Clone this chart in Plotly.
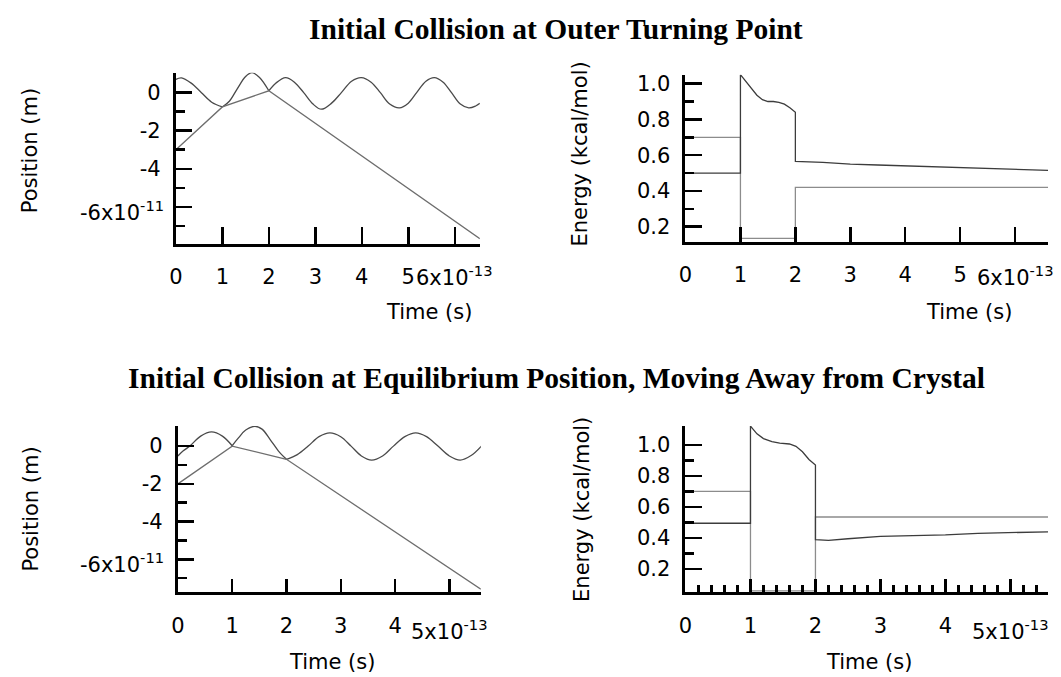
import plotly.graph_objects as go

# ---------------- data (time in units of 1e-13 s, position in 1e-11 m, energy in kcal/mol)
# Top-left: Initial collision at outer turning point - positions
tl_osc1_t = [0.0, 0.12, 0.33, 0.55, 0.77, 1.0]
tl_osc1_y = [0.70, 0.78, 0.50, 0.0, -0.50, -0.75]
tl_osc2_t = [1.0, 1.15, 1.32, 1.5, 1.64, 1.8, 2.0]
tl_osc2_y = [-0.75, -0.45, 0.20, 0.85, 1.05, 0.80, 0.10]
tl_osc3_t = [2.0, 2.15, 2.36, 2.55, 2.75, 2.95, 3.13, 3.35, 3.56, 3.78, 3.99, 4.2, 4.4,
             4.6, 4.81, 5.0, 5.18, 5.38, 5.56, 5.75, 5.93, 6.12, 6.3, 6.45, 6.54]
tl_osc3_y = [0.10, 0.50, 0.79, 0.55, 0.0, -0.60, -0.87, -0.55, 0.0, 0.60, 0.79, 0.55, 0.0,
             -0.60, -0.80, -0.55, 0.0, 0.60, 0.79, 0.55, 0.0, -0.60, -0.80, -0.70, -0.56]
tl_part_t = [0.0, 1.0, 2.0, 6.54]
tl_part_y = [-3.0, -0.75, 0.10, -7.68]

# Top-right: energies
tr_e1_t = [0.0, 1.0, 1.0, 1.1, 1.2, 1.3, 1.4, 1.5, 1.6, 1.7, 1.8, 1.9, 2.0, 2.0,
           2.5, 3.0, 3.5, 4.0, 4.5, 5.0, 5.5, 6.0, 6.6]
tr_e1_v = [0.50, 0.50, 1.05, 1.01, 0.97, 0.935, 0.91, 0.90, 0.90, 0.895, 0.885, 0.865, 0.84, 0.565,
           0.56, 0.55, 0.545, 0.54, 0.535, 0.53, 0.525, 0.52, 0.515]
tr_e2_t = [0.0, 1.0, 1.0, 2.0, 2.0, 6.6]
tr_e2_v = [0.70, 0.70, 0.135, 0.135, 0.42, 0.42]

# Bottom-left: Initial collision at equilibrium position - positions
bl_osc1_t = [0.0, 0.1, 0.22, 0.42, 0.62, 0.82, 1.0]
bl_osc1_y = [-0.52, -0.25, 0.0, 0.53, 0.75, 0.53, 0.02]
bl_osc2_t = [1.0, 1.12, 1.25, 1.42, 1.55, 1.7, 1.85, 2.0]
bl_osc2_y = [0.02, 0.45, 0.85, 1.05, 0.90, 0.35, -0.25, -0.70]
bl_osc3_t = [2.0, 2.2, 2.4, 2.6, 2.8, 3.0, 3.19, 3.38, 3.57, 3.77, 3.97, 4.18, 4.38,
             4.58, 4.79, 5.0, 5.2, 5.4, 5.59]
bl_osc3_y = [-0.70, -0.45, 0.0, 0.50, 0.70, 0.50, 0.0, -0.52, -0.74, -0.52, 0.0, 0.50, 0.70,
             0.50, 0.0, -0.52, -0.74, -0.50, 0.0]
bl_part_t = [0.0, 1.0, 2.0, 5.58]
bl_part_y = [-2.0, 0.0, -0.70, -7.58]

# Bottom-right: energies
br_e1_t = [0.0, 1.0, 1.0, 1.1, 1.2, 1.33, 1.45, 1.6, 1.7, 1.8, 1.9, 2.0, 2.0,
           2.2, 2.5, 3.0, 3.5, 4.0, 4.5, 5.0, 5.58]
br_e1_v = [0.495, 0.495, 1.12, 1.07, 1.04, 1.02, 1.01, 1.005, 0.99, 0.955, 0.905, 0.87, 0.39,
           0.385, 0.395, 0.41, 0.415, 0.42, 0.43, 0.435, 0.44]
br_e2_t = [0.0, 1.0, 1.0, 2.0, 2.0, 5.58]
br_e2_v = [0.70, 0.70, 0.06, 0.06, 0.535, 0.535]

# tick labels (the last, exponent-bearing label of each axis is drawn a little lower, as in the original)
t_xticks = [0, 1, 2, 3, 4, 5, 6]
t_xtext = ["0", "1", "2", "3", "4", "5", ""]
t_xlast = (6, "6x10<sup>-13</sup>")
b_xticks = [0, 1, 2, 3, 4, 5]
b_xtext = ["0", "1", "2", "3", "4", ""]
b_xlast = (5, "5x10<sup>-13</sup>")
pos_yticks = [0, -2, -4, -6]
pos_ytext = ["0", "-2", "-4", ""]
pos_ylast = (-6, "-6x10<sup>-11</sup>")
pos_yminor = [-1, -3, -5, -7]
en_yticks = [0.2, 0.4, 0.6, 0.8, 1.0]
en_ytext = ["0.2", "0.4", "0.6", "0.8", "1.0"]
en_yminor = [0.3, 0.5, 0.7, 0.9]
br_xminor = [0.2, 0.4, 0.6, 0.8, 1.2, 1.4, 1.6, 1.8, 2.2, 2.4, 2.6, 2.8, 3.2, 3.4, 3.6, 3.8,
             4.2, 4.4, 4.6, 4.8, 5.2, 5.4]

titles = ["Initial Collision at Outer Turning Point",
          "Initial Collision at Equilibrium Position, Moving Away from Crystal"]

# ---------------- figure
W, H = 1061, 677
fig = go.Figure()

OSC = "#4a4a4a"
PART = "#6e6e6e"
DARK = "#3c3c3c"
LIGHT = "#8c8c8c"


def add(x, y, xa, ya, color, shape="linear", width=1.3):
    fig.add_trace(go.Scatter(x=x, y=y, xaxis=xa, yaxis=ya, mode="lines",
                             line=dict(color=color, width=width, shape=shape,
                                       smoothing=1.0 if shape == "spline" else None),
                             hoverinfo="skip", showlegend=False))


add(tl_osc1_t, tl_osc1_y, "x", "y", OSC, "spline")
add(tl_osc2_t, tl_osc2_y, "x", "y", OSC, "spline")
add(tl_osc3_t, tl_osc3_y, "x", "y", OSC, "spline")
add(tl_part_t, tl_part_y, "x", "y", PART)

add(tr_e2_t, tr_e2_v, "x2", "y2", LIGHT)
add(tr_e1_t, tr_e1_v, "x2", "y2", DARK)

add(bl_osc1_t, bl_osc1_y, "x3", "y3", OSC, "spline")
add(bl_osc2_t, bl_osc2_y, "x3", "y3", OSC, "spline")
add(bl_osc3_t, bl_osc3_y, "x3", "y3", OSC, "spline")
add(bl_part_t, bl_part_y, "x3", "y3", PART)

add(br_e2_t, br_e2_v, "x4", "y4", LIGHT)
add(br_e1_t, br_e1_v, "x4", "y4", DARK)


def px_x(a, b):
    return [a / W, b / W]


def px_y(top, bottom):
    return [1 - bottom / H, 1 - top / H]


TICKFONT = dict(family="DejaVu Sans", size=21, color="black")
common = dict(showgrid=False, zeroline=False, showline=True, linecolor="black", linewidth=3,
              ticks="inside", tickcolor="black", tickwidth=2.5, tickfont=TICKFONT,
              tickmode="array", fixedrange=True, tickangle=0)


def minor(vals, ln):
    return dict(tickvals=vals, ticklen=ln, tickwidth=2.5, tickcolor="black", ticks="inside")


fig.update_layout(
    width=W, height=H, margin=dict(l=0, r=0, t=0, b=0),
    paper_bgcolor="white", plot_bgcolor="white", showlegend=False,
    xaxis=dict(common, domain=px_x(170, 476), range=[0, 6.54], anchor="y",
               tickvals=t_xticks, ticktext=t_xtext, ticklen=17, ticklabelstandoff=12),
    yaxis=dict(common, domain=px_y(70, 242), range=[-7.95, 1.05], anchor="x",
               tickvals=pos_yticks, ticktext=pos_ytext, ticklen=16, ticklabelstandoff=8,
               minor=minor(pos_yminor, 9)),
    xaxis2=dict(common, domain=px_x(683, 1048), range=[0, 6.6], anchor="y2",
                tickvals=t_xticks, ticktext=t_xtext, ticklen=15, ticklabelstandoff=12),
    yaxis2=dict(common, domain=px_y(72, 240), range=[0.115, 1.05], anchor="x2",
                tickvals=en_yticks, ticktext=en_ytext, ticklen=17, ticklabelstandoff=8,
                minor=minor(en_yminor, 9)),
    xaxis3=dict(common, domain=px_x(172, 477), range=[0, 5.58], anchor="y3",
                tickvals=b_xticks, ticktext=b_xtext, ticklen=13, ticklabelstandoff=12),
    yaxis3=dict(common, domain=px_y(425, 592), range=[-7.75, 1.06], anchor="x3",
                tickvals=pos_yticks, ticktext=pos_ytext, ticklen=16, ticklabelstandoff=8,
                minor=minor(pos_yminor, 9)),
    xaxis4=dict(common, domain=px_x(683, 1048), range=[0, 5.58], anchor="y4",
                tickvals=b_xticks, ticktext=b_xtext, ticklen=13, ticklabelstandoff=12,
                minor=minor(br_xminor, 7)),
    yaxis4=dict(common, domain=px_y(425, 592), range=[0.05, 1.12], anchor="x4",
                tickvals=en_yticks, ticktext=en_ytext, ticklen=17, ticklabelstandoff=8,
                minor=minor(en_yminor, 9)),
)

LABELFONT = dict(family="DejaVu Sans", size=21, color="black")
TITLEFONT = dict(family="Liberation Serif", size=29.5, color="black")


def ann(text, xpx, ypx, font, angle=0):
    fig.add_annotation(text=text, x=xpx / W, y=1 - ypx / H, xref="paper", yref="paper",
                       xanchor="center", yanchor="middle", showarrow=False,
                       textangle=angle, font=font)


def xlabel_last(xref, val, text, ypx):
    fig.add_annotation(text=text, x=val, xref=xref, y=1 - ypx / H, yref="paper",
                       xanchor="center", yanchor="middle", showarrow=False, font=TICKFONT)


def ylabel_last(yref, val, text, xpx, dy):
    fig.add_annotation(text=text, x=xpx / W, xref="paper", y=val, yref=yref, yshift=dy,
                       xanchor="right", yanchor="middle", showarrow=False, font=TICKFONT)


xlabel_last("x", t_xlast[0], t_xlast[1], 274)
xlabel_last("x2", t_xlast[0], t_xlast[1], 274)
xlabel_last("x3", b_xlast[0], b_xlast[1], 630)
xlabel_last("x4", b_xlast[0], b_xlast[1], 630)
ylabel_last("y", pos_ylast[0], pos_ylast[1], 160, -4)
ylabel_last("y3", pos_ylast[0], pos_ylast[1], 160, -4)

ann("<b>" + titles[0] + "</b>", 553, 26, TITLEFONT)
ann("<b>" + titles[1] + "</b>", 553, 377, TITLEFONT)
ann("Time (s)", 425, 310, LABELFONT)
ann("Time (s)", 968, 310, LABELFONT)
ann("Time (s)", 327, 662, LABELFONT)
ann("Time (s)", 868, 662, LABELFONT)
ann("Position (m)", 23, 148, LABELFONT, -90)
ann("Position (m)", 24, 508, LABELFONT, -90)
ann("Energy (kcal/mol)", 577, 152, LABELFONT, -90)
ann("Energy (kcal/mol)", 579, 509, LABELFONT, -90)

fig.write_html("out.html", config={"displayModeBar": False, "staticPlot": True},
               post_script="document.body.style.margin='0';document.body.style.padding='0';")
